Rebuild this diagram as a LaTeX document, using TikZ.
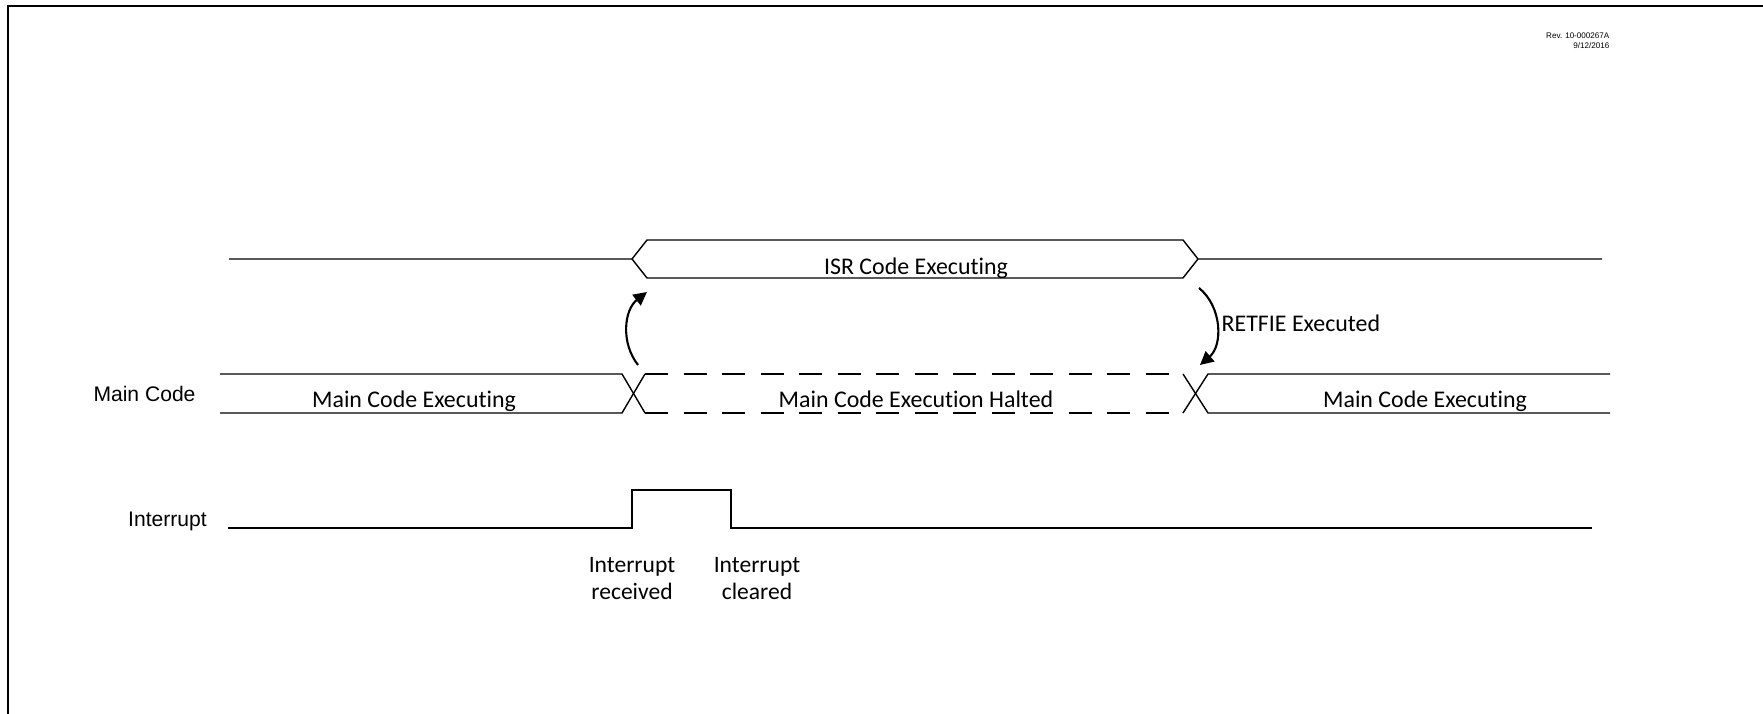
\documentclass[tikz,border=0pt]{standalone}
\usepackage{fontspec}
\setmainfont[Ligatures=NoCommon]{Carlito}
\newfontfamily\arialfont{Liberation Sans}
\usetikzlibrary{arrows.meta}

\begin{document}
\begin{tikzpicture}[every node/.style={font=\fontsize{6.8}{8.2}\selectfont, inner sep=0pt},
  sig/.style={font=\arialfont\fontsize{6}{7}\selectfont},
  note/.style={font=\fontsize{6.7}{7.7}\selectfont, align=center},
  halt/.style={dash pattern=on 0.23cm off 0.155cm},
  jump/.style={line width=0.6pt, -{Triangle[length=3.8pt,width=3.8pt]}}]
  \useasboundingbox (0,0) rectangle (17.63,7.14);
  % frame, only top and left edge show
  \draw[line width=0.65pt] (0.078,0) -- (0.078,7.08) -- (17.63,7.08);
  \node[font=\arialfont\fontsize{2.3}{2.8}\selectfont, align=right, anchor=north east] (rev) at (16.10,6.82) {Rev. 10-000267A\\9/12/2016};
  % ISR line
  \draw (2.29,4.55) -- (6.32,4.55) -- (6.47,4.74) -- (11.83,4.74) -- (11.98,4.55) -- (16.02,4.55);
  \draw (6.32,4.55) -- (6.47,4.36) -- (11.83,4.36) -- (11.98,4.55);
  \node[anchor=base] (isr) at (9.16,4.39) {ISR Code Executing};
  % Main Code bus
  \node[sig, anchor=base] (mainlbl) at (1.445,3.12) {Main Code};
  \draw (2.20,3.40) -- (6.22,3.40) -- (6.45,3.01);
  \draw (2.20,3.01) -- (6.22,3.01) -- (6.45,3.40);
  \draw[halt] (6.45,3.40) -- (11.70,3.40);
  \draw[halt] (6.45,3.01) -- (11.70,3.01);
  \draw (11.83,3.40) -- (12.08,3.01) -- (16.10,3.01);
  \draw (11.83,3.01) -- (12.08,3.40) -- (16.10,3.40);
  \node[anchor=base] (execA) at (4.14,3.06) {Main Code Executing};
  \node[anchor=base] (halted) at (9.16,3.06) {Main Code Execution Halted};
  \node[anchor=base] (execB) at (14.25,3.06) {Main Code Executing};
  % Interrupt line
  \node[sig, anchor=base] (intlbl) at (1.675,1.87) {Interrupt};
  \draw (2.28,1.86) -- (6.32,1.86) -- (6.32,2.24) -- (7.31,2.24) -- (7.31,1.86) -- (15.92,1.86);
  \node[note, anchor=base] (rcvd) at (6.32,1.14) {Interrupt\\received};
  \node[note, anchor=base] (clrd) at (7.57,1.14) {Interrupt\\cleared};
  % jumps
  \coordinate (goA) at (6.38,3.49);
  \coordinate (goB) at (6.47,4.22);
  \coordinate (backA) at (11.99,4.26);
  \coordinate (backB) at (12.00,3.49);
  \draw[jump] (goA) to[bend left=45] (goB);
  \draw[jump] (backA) to[bend left=50] (backB);
  \node[anchor=base west] (retfie) at (12.21,3.82) {RETFIE Executed};
\end{tikzpicture}
\end{document}
